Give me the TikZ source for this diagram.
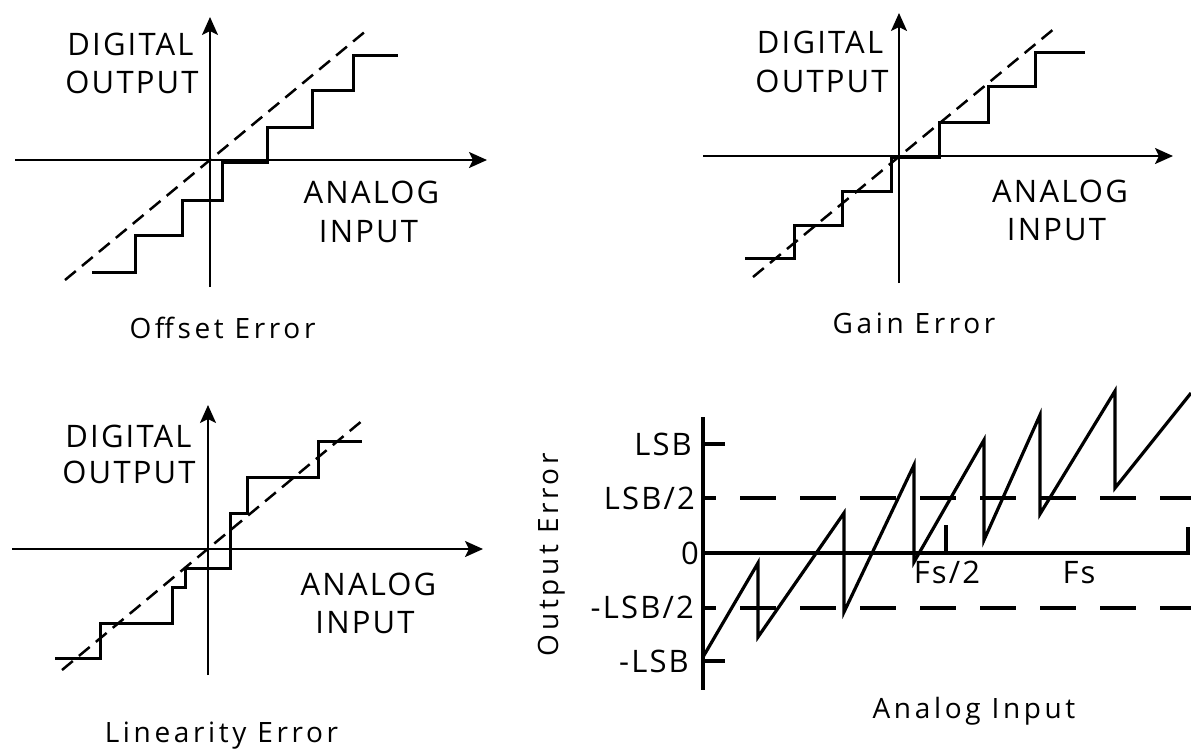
\documentclass[tikz,border=0pt]{standalone}
\usepackage{fontspec}
\setmainfont{Open Sans}[LetterSpace=13]
\newfontfamily\capsfont{Open Sans}[LetterSpace=7]
\usetikzlibrary{arrows.meta}
\tikzset{
  axisline/.style={line width=2.2pt, -{Stealth[length=18pt,width=16pt,inset=4pt]}},
  stairline/.style={line width=3pt},
  idealline/.style={line width=2.5pt, dash pattern=on 14pt off 8pt},
  errline/.style={line width=3.2pt},
  lsbline/.style={line width=3.2pt, dash pattern=on 36pt off 24pt, dash phase=23pt},
  lbl/.style={inner sep=0pt, anchor=base, font=\capsfont\fontsize{31}{36}\selectfont},
  titlelbl/.style={inner sep=0pt, anchor=base, font=\fontsize{28}{32}\selectfont}
}

\begin{document}
\begin{tikzpicture}[x=1pt, y=-1pt]
	\useasboundingbox (0,0) rectangle (1191,748);
	% offset error
	\draw[axisline] (15,160) -- (487,160);
	\draw[axisline] (210,287) -- (210,17);
	\draw[idealline] (65,280) -- (367,30);
	\draw[stairline] (92,272) -| (135,235) -| (182,200) -| (222,162) -| (267,127) -| (312,90) -| (353,55) -- (398,55);
	%
	% gain error
	\draw[axisline] (703,156) -- (1173,156);
	\draw[axisline] (899,283) -- (899,13);
	\draw[idealline] (753,277) -- (1055,28);
	\draw[stairline] (745,258) -| (794,225) -| (842,191) -| (891,157) -| (939,122) -| (988,86) -| (1035,52) -- (1085,52);
	%
	% linearity error
	\draw[axisline] (12,549) -- (483,549);
	\draw[axisline] (208,675) -- (208,405);
	\draw[idealline] (62,670) -- (363,420);
	\draw[stairline] (55,658) -| (100,623) -| (172,587) -| (185,568) -| (230,513) -| (247,477) -| (318,441) -- (362,441);
	%
	% quantization error
	\draw[errline] (703,417) -- (703,690);
	\draw[errline] (703,444) -- (725,444);
	\draw[errline] (703,661) -- (725,661);
	\draw[errline] (703,553) -- (1188,553) -- (1188,527);
	\draw[errline] (946,553) -- (946,525);
	\draw[lsbline] (703,498) -- (1191,498);
	\draw[lsbline] (703,608) -- (1191,608);
	\draw[errline] (703,657) -- (758,563) -- (758,637) -- (844,513) -- (844,612) -- (914,465) -- (914,562)
		-- (984,440) -- (984,540) -- (1040,415) -- (1040,514) -- (1115,391) -- (1115,488) -- (1191,393);
	%
	\node[lbl] (dig1) at (130.5,55) {DIGITAL};
	\node[lbl] (out1) at (132,93) {OUTPUT};
	\node[lbl] (ana1) at (371.5,203) {ANALOG};
	\node[lbl] (inp1) at (368.5,242) {INPUT};
	\node[titlelbl] (tit1) at (222.5,338) {Offset Error};
	\node[lbl] (dig2) at (820,53) {DIGITAL};
	\node[lbl] (out2) at (822,92) {OUTPUT};
	\node[lbl] (ana2) at (1060,202) {ANALOG};
	\node[lbl] (inp2) at (1056.5,240) {INPUT};
	\node[titlelbl] (tit2) at (914,333) {Gain Error};
	\node[lbl] (dig3) at (128.5,447) {DIGITAL};
	\node[lbl] (out3) at (129,483) {OUTPUT};
	\node[lbl] (ana3) at (368.5,595) {ANALOG};
	\node[lbl] (inp3) at (365,633) {INPUT};
	\node[titlelbl] (tit3) at (221.5,742) {Linearity Error};
	%
	\node[lbl, anchor=base east] (lsb) at (692,455) {LSB};
	\node[lbl, anchor=base east] (halflsb) at (695,509) {LSB/2};
	\node[lbl, anchor=base east] (zero) at (699,564) {0};
	\node[lbl, anchor=base east] (neghalflsb) at (694,618) {-LSB/2};
	\node[lbl, anchor=base east] (neglsb) at (689,672) {-LSB};
	\node[lbl] (fshalf) at (947,583) {Fs/2};
	\node[lbl] (fs) at (1079,583) {Fs};
	\node[titlelbl] (xlbl) at (974,718) {Analog Input};
	\node[titlelbl, rotate=90] (ylbl) at (558,554.5) {Output Error};
\end{tikzpicture}
\end{document}
